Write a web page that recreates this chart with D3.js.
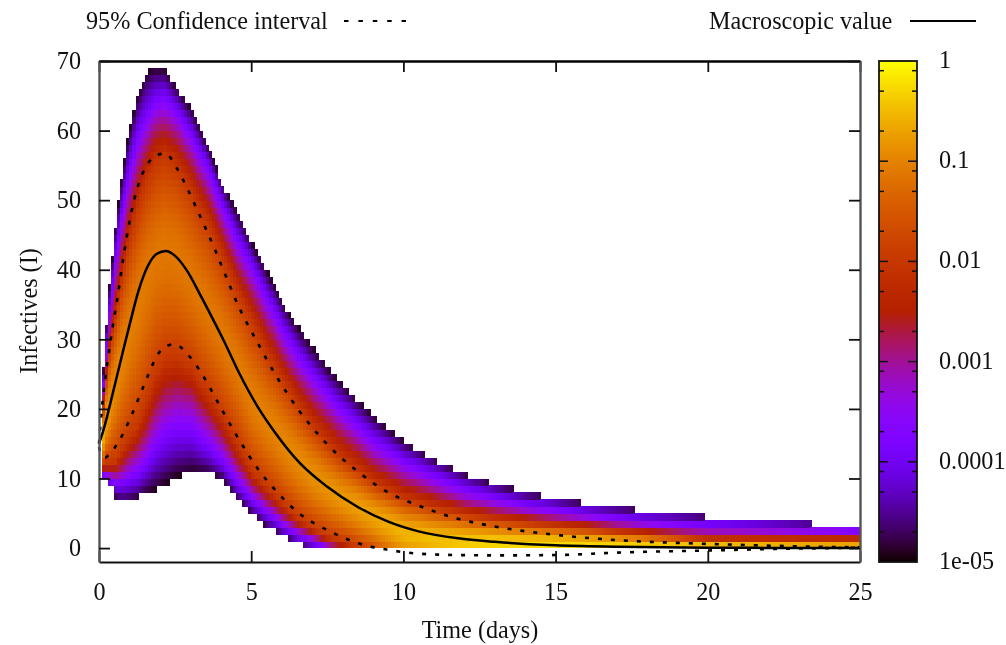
<!DOCTYPE html>
<html>
<head>
<meta charset="utf-8">
<script src="https://cdn.jsdelivr.net/npm/d3@7"></script>
<style>
    html, body { margin: 0; padding: 0; background: #fff; }
    svg { display: block; filter: blur(0.55px); }
    text { font-family: "Liberation Serif", serif; font-size: 24.2px; fill: #111; }
</style>
</head>
<body>
<div id="chart"></div>
<script>
// curves
const curveTimes = [0, 0.1, 0.2, 0.3, 0.45, 0.6, 0.8, 1, 1.3, 1.6, 1.9, 2.2, 2.5, 2.9, 3.3, 3.8, 4.1, 4.6, 5.2, 5.8, 6.6, 7.5, 8.5, 9.5, 10.5, 11.8, 13, 15, 17, 20, 22.5, 25];
const macroValue = [15, 16.3, 17.8, 19.5, 22.2, 24.9, 28.5, 32, 37, 40.5, 42.3, 42.7, 42, 39.8, 36.6, 32.4, 29.8, 25.2, 20.4, 16.5, 12.2, 8.8, 5.9, 3.8, 2.4, 1.4, 0.9, 0.4, 0.2, 0.06, 0.02, 0];
const ciUpper = [15, 20.3, 24.1, 27.4, 31.8, 35.8, 41.7, 46.9, 52.3, 55.2, 56.5, 56.7, 55, 51.7, 47.9, 43, 39.8, 34.6, 29.6, 24.9, 19.6, 14.9, 11, 8, 6.1, 4.2, 3.1, 1.9, 1.15, 0.6, 0.3, 0.1];
const ciLower = [14.5, 13.2, 13, 13.3, 14, 15, 16.5, 18.4, 21.5, 24.7, 27.6, 29, 29.3, 27.9, 25.6, 21.8, 19.4, 15.6, 11.5, 8.3, 4.9, 2.6, 0.7, -0.25, -0.8, -1, -1.05, -1, -0.65, -0.35, -0.1, 0.05];

// density map: at each time, the I where log10(p) crosses -5, -4, -3, -2 above and below the mode
const mapTimes = [0.1, 0.2, 0.3, 0.4, 0.5, 0.7, 0.9, 1.2, 1.5, 1.8, 2.1, 2.5, 3, 3.5, 4, 4.5, 5, 5.5, 6, 6.5, 7, 7.5, 8, 9, 10, 11, 12, 13, 14, 15, 16, 18, 20, 22, 25];
const upper5 = [26, 32.5, 38, 42, 46.5, 53.5, 59, 65.5, 68.9, 69.6, 69.2, 66.5, 63.5, 58.5, 52.8, 48.5, 44, 40, 35.5, 32, 29, 26.2, 23.7, 19.2, 15.7, 13.2, 11.1, 9.6, 8.4, 7.5, 6.8, 5.8, 4.95, 4.4, 3.5];
const upper4 = [24, 30, 34.5, 38.5, 42.5, 48.5, 54, 60, 63, 65, 65.5, 63.5, 60, 55.5, 50, 45, 41, 36.5, 32, 28.5, 25.5, 22.8, 20.2, 16, 13, 10.8, 8.9, 7.6, 6.6, 5.9, 5.2, 4.2, 3.6, 3.2, 2.7];
const upper3 = [22.2, 27, 31.2, 34.8, 38, 44, 49, 55, 58.5, 61, 61.5, 60, 56.5, 52, 46.5, 41.5, 37.5, 33, 28.5, 25, 22, 19.5, 17, 13, 10.3, 8.4, 6.8, 5.8, 5.1, 4.5, 4, 3, 2.3, 2.15, 2];
const upper2 = [20.3, 24.5, 28, 31, 33.5, 38.5, 43, 49, 53, 55.5, 56.5, 55, 51.5, 47, 42, 37, 32.5, 28, 24, 20.5, 17.5, 15, 12.8, 9.5, 7.2, 5.9, 4.9, 4.2, 3.7, 3.3, 2.9, 2, 1.35, 1.3, 1.3];
const modeI = [16, 18.5, 20, 22, 23.5, 27, 29.5, 34.5, 38.5, 41.5, 42.7, 42, 38.5, 34.5, 30.5, 26, 21, 18, 15, 12.5, 10.3, 8.6, 7, 4.5, 2.2, 1.2, 0.8, 0.6, 0.5, 0.5, 0.5, 0.5, 0.5, 0.5, 0.5];
const modeLog = [-0.6, -0.72, -0.8, -0.88, -0.92, -0.97, -1.02, -1.07, -1.1, -1.12, -1.12, -1.12, -1.12, -1.12, -1.1, -1.08, -1.04, -1, -0.96, -0.92, -0.88, -0.84, -0.78, -0.68, -0.55, -0.45, -0.35, -0.28, -0.25, -0.25, -0.28, -0.38, -0.5, -0.6, -0.7];
const lower2 = [12, 12.3, 12.3, 12.5, 12.5, 14, 15.5, 17.5, 21, 25, 27, 27.5, 26, 22.5, 19, 15, 11, 8.7, 6.3, 4.3, 2.8, 1.7, 0.9, -1, -4, -4, -4, -4, -4, -4, -4, -4, -4, -4, -4];
const lower3 = [11, 11, 10.8, 10.7, 10.5, 11, 12, 13.5, 15.5, 18.5, 20.5, 21.5, 21, 18, 15, 11.5, 8.5, 6.4, 4.3, 2.8, 1.7, 0.5, -0.2, -1.5, -5, -5, -5, -5, -5, -5, -5, -5, -5, -5, -5];
const lower4 = [10.3, 10, 9.6, 9.4, 9, 9, 9.3, 10, 11.5, 13.5, 15, 16, 16, 14, 12, 9, 6.5, 4.7, 2.9, 1.6, 0.7, -0.3, -0.8, -2, -6, -6, -6, -6, -6, -6, -6, -6, -6, -6, -6];
const lower5 = [9.5, 9.2, 8.8, 8.2, 6.9, 6.3, 6.2, 6.8, 7.5, 7.9, 8.7, 9.8, 10.5, 10.4, 9.5, 6.6, 4.5, 2.6, 1.4, 0.3, -0.9, -1.5, -1.8, -2.5, -7, -7, -7, -7, -7, -7, -7, -7, -7, -7, -7];

// tick labels
const xTicks = [0, 5, 10, 15, 20, 25];
const yTicks = [0, 10, 20, 30, 40, 50, 60, 70];
const barTicks = [1, 0.1, 0.01, 0.001, 0.0001, 0.00001];
const barLabels = ["1", "0.1", "0.01", "0.001", "0.0001", "1e-05"];
const barMinor = [0.8, 0.5, 0.2, 0.08, 0.05, 0.02, 0.008, 0.005, 0.002, 0.0008, 0.0005, 0.0002, 0.00008, 0.00005, 0.00002];

const width = 1006, height = 645;
const margin = { top: 61, left: 99, right: 860, bottom: 562 };

const svg = d3.select("#chart").append("svg")
    .attr("width", width)
    .attr("height", height);

const x = d3.scaleLinear().domain([0, 25]).range([margin.left, margin.right]);
const y = d3.scaleLinear().domain([-2, 70]).range([margin.bottom, margin.top]);
const barY = d3.scaleLog().domain([0.00001, 1]).range([margin.bottom, margin.top]);

// gnuplot default pm3d palette (rgbformulae 7,5,15)
function palette(g) {
    g = Math.max(0, Math.min(1, g));
    const r = Math.sqrt(g), gr = g * g * g, b = Math.max(0, Math.sin(2 * Math.PI * g));
    return d3.rgb(r * 255, gr * 255, b * 255).formatHex();
}

// one scale per array, so each level can be looked up at any column
const at = arr => d3.scaleLinear().domain(mapTimes).range(arr);
const levels = [lower5, lower4, lower3, lower2, modeI, upper2, upper3, upper4, upper5].map(at);
const peak = at(modeLog);

// map cells: columns 0.1 days wide, rows 1 infective high
const cells = [];
d3.range(1, 250).forEach(i => {
    const t = i / 10;
    const lv = levels.map(s => s(t));
    const logP = d3.scaleLinear().domain(lv).range([-5, -4, -3, -2, peak(t), -2, -3, -4, -5]);
    // the top of the density is flat, so ease the two segments next to the mode
    const nearMode = d3.scalePow().exponent(1.6).domain([0, 1]).range([peak(t), -2]);
    d3.range(1, 71).forEach(k => {
        if (k <= lv[8] && k - 1 >= lv[0]) {
            const I = k - 0.5;
            let v = logP(I);
            if (I > lv[3] && I < lv[5]) {
                v = nearMode(I < lv[4] ? (lv[4] - I) / (lv[4] - lv[3]) : (I - lv[4]) / (lv[5] - lv[4]));
            }
            cells.push({ t: t, k: k, g: (v + 5) / 5 });
        }
    });
});

svg.append("g").attr("class", "heat")
    .attr("shape-rendering", "crispEdges")
    .selectAll("rect")
    .data(cells)
    .join("rect")
    .attr("x", d => x(d.t))
    .attr("y", d => y(d.k))
    .attr("width", d => x(d.t + 0.1) - x(d.t) + 0.6)
    .attr("height", d => y(d.k - 1) - y(d.k) + 0.4)
    .attr("fill", d => palette(d.g));

// curves
const line = d3.line()
    .x((d, i) => x(curveTimes[i]))
    .y(d => y(d))
    .curve(d3.curveMonotoneX);

[ciUpper, ciLower].forEach(c => {
    svg.append("path")
        .attr("d", line(c))
        .attr("fill", "none")
        .attr("stroke", "#000")
        .attr("stroke-width", 2.6)
        .attr("stroke-dasharray", "4,9");
});
svg.append("path")
    .attr("d", line(macroValue))
    .attr("fill", "none")
    .attr("stroke", "#000")
    .attr("stroke-width", 2.5);

// axes, gnuplot style with ticks pointing in on all four sides
const xAxis = d3.axisBottom(x).tickValues(xTicks).tickSizeInner(-11).tickSizeOuter(0).tickPadding(26);
const xTop = d3.axisTop(x).tickValues(xTicks).tickSizeInner(-11).tickSizeOuter(0).tickFormat("");
const yAxis = d3.axisLeft(y).tickValues(yTicks).tickSizeInner(-11).tickSizeOuter(0).tickPadding(18);
const yRight = d3.axisRight(y).tickValues(yTicks).tickSizeInner(-11).tickSizeOuter(0).tickFormat("");

const gX = svg.append("g").attr("transform", `translate(0,${margin.bottom})`).call(xAxis);
const gT = svg.append("g").attr("transform", `translate(0,${margin.top})`).call(xTop);
const gY = svg.append("g").attr("transform", `translate(${margin.left},0)`).call(yAxis);
const gR = svg.append("g").attr("transform", `translate(${margin.right},0)`).call(yRight);

[gX, gT, gY, gR].forEach(g => {
    g.selectAll("text").style("font-size", "24.2px").style("font-family", '"Liberation Serif", serif').attr("fill", "#111");
    g.selectAll("line").attr("stroke", "#111").attr("stroke-width", 1.8);
    g.select(".domain").attr("stroke", "#111").attr("stroke-width", 2);
});
gY.select(".domain").attr("stroke", "#555").attr("stroke-width", 2.4);
gR.select(".domain").attr("stroke", "#555").attr("stroke-width", 2.4);
gT.select(".domain").attr("stroke", "#000").attr("stroke-width", 2.4);
gX.selectAll("text").attr("dy", "0.5em");

svg.append("text")
    .attr("x", 480).attr("y", 638)
    .attr("text-anchor", "middle")
    .text("Time (days)");
svg.append("text")
    .attr("transform", "translate(37,311) rotate(-90)")
    .attr("text-anchor", "middle")
    .text("Infectives (I)");

// colour bar
const barX0 = 879, barX1 = 917;
svg.append("g")
    .attr("shape-rendering", "crispEdges")
    .selectAll("rect")
    .data(d3.range(margin.top, margin.bottom))
    .join("rect")
    .attr("x", barX0)
    .attr("y", d => d)
    .attr("width", barX1 - barX0)
    .attr("height", 1.2)
    .attr("fill", d => palette((Math.log10(barY.invert(d + 0.5)) + 5) / 5));

svg.append("rect")
    .attr("x", barX0).attr("y", margin.top)
    .attr("width", barX1 - barX0).attr("height", margin.bottom - margin.top)
    .attr("fill", "none").attr("stroke", "#111").attr("stroke-width", 1.8);

const barTickMarks = (vals, len) => {
    const g = svg.append("g");
    vals.forEach(v => {
        g.append("line").attr("x1", barX0).attr("x2", barX0 + len).attr("y1", barY(v)).attr("y2", barY(v));
        g.append("line").attr("x1", barX1 - len).attr("x2", barX1).attr("y1", barY(v)).attr("y2", barY(v));
    });
    g.selectAll("line").attr("stroke", "#111").attr("stroke-width", 1.5);
};
barTickMarks(barTicks.slice(1, 5), 9);
barTickMarks(barMinor, 5);

svg.append("g").selectAll("text")
    .data(barTicks)
    .join("text")
    .attr("x", 939)
    .attr("y", d => barY(d) + 7)
    .text((d, i) => barLabels[i]);

// legend above the plot
svg.append("text").attr("x", 86).attr("y", 29).text("95% Confidence interval");
svg.append("line")
    .attr("x1", 344).attr("x2", 406).attr("y1", 21).attr("y2", 21)
    .attr("stroke", "#000").attr("stroke-width", 2)
    .attr("stroke-dasharray", "4.5,9.9");
svg.append("text").attr("x", 709).attr("y", 29).text("Macroscopic value");
svg.append("line")
    .attr("x1", 910).attr("x2", 976).attr("y1", 21).attr("y2", 21)
    .attr("stroke", "#000").attr("stroke-width", 2);
</script>
</body>
</html>
